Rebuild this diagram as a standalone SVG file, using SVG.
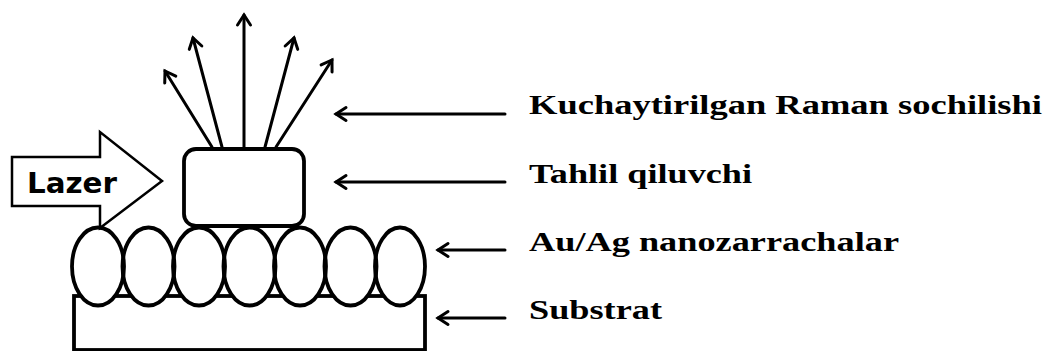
<svg xmlns="http://www.w3.org/2000/svg" width="1045" height="351" viewBox="0 0 1045 351">
  <style>
    .ln { stroke:#000; stroke-width:3; fill:none; stroke-linecap:round; }
    .shape { stroke:#000; stroke-width:3.8; fill:#fff; }
    .pfill { fill:#fff; stroke:none; }
    .pline { fill:none; stroke:#000; stroke-width:3.8; }
    .lbl { font-family:"Liberation Serif","Times New Roman",serif; font-weight:bold; font-size:28px; fill:#000; }
    .laz { font-family:"DejaVu Sans","Liberation Sans",sans-serif; font-weight:bold; font-size:28px; fill:#000; }
  </style>
  <defs>
    <marker id="ah" markerUnits="userSpaceOnUse" viewBox="-14 -9 17 18" markerWidth="17" markerHeight="18" refX="0" refY="0" orient="auto">
      <path d="M -10 -6.5 L 0 0 L -10 6.5" fill="none" stroke="#000" stroke-width="3" stroke-linecap="round" stroke-linejoin="miter"/>
    </marker>
    <g id="ells">
      <ellipse cx="98" cy="266.5" rx="26" ry="39"/>
      <ellipse cx="148.5" cy="266.5" rx="26" ry="39"/>
      <ellipse cx="199" cy="266.5" rx="26" ry="39"/>
      <ellipse cx="249.5" cy="266.5" rx="26" ry="39"/>
      <ellipse cx="300" cy="266.5" rx="26" ry="39"/>
      <ellipse cx="350.5" cy="266.5" rx="26" ry="39"/>
      <ellipse cx="400" cy="266.5" rx="25" ry="39"/>
    </g>
  </defs>
  <rect width="1045" height="351" fill="#fff"/>

  <g id="substrat">
    <rect class="shape" x="74" y="296" width="351" height="54"/>
  </g>

  <g id="nanozarrachalar">
    <use href="#ells" class="pfill"/>
    <use href="#ells" class="pline"/>
  </g>

  <g id="tahlil">
    <rect class="shape" x="184" y="149" width="120" height="77" rx="12" ry="12"/>
  </g>

  <g id="lazer">
    <polygon points="12,157 100,157 100,132 162,181 100,228 100,206 12,206" fill="#fff" stroke="#000" stroke-width="2.5" stroke-linejoin="miter"/>
    <text class="laz" x="27" y="193" textLength="90" lengthAdjust="spacingAndGlyphs">Lazer</text>
  </g>

  <g id="connectors">
    <line class="ln" x1="212" y1="147" x2="165" y2="71" marker-end="url(#ah)"/>
    <line class="ln" x1="222" y1="147" x2="193" y2="38" marker-end="url(#ah)"/>
    <line class="ln" x1="244" y1="147" x2="244" y2="15" marker-end="url(#ah)"/>
    <line class="ln" x1="265" y1="147" x2="294" y2="38" marker-end="url(#ah)"/>
    <line class="ln" x1="276" y1="147" x2="332" y2="60" marker-end="url(#ah)"/>

    <line class="ln" x1="505" y1="114" x2="336" y2="114" marker-end="url(#ah)"/>
    <line class="ln" x1="505" y1="182" x2="336" y2="182" marker-end="url(#ah)"/>
    <line class="ln" x1="505" y1="250" x2="438" y2="250" marker-end="url(#ah)"/>
    <line class="ln" x1="505" y1="318" x2="438" y2="318" marker-end="url(#ah)"/>
  </g>

  <g id="labels">
    <text class="lbl" x="529" y="114" textLength="513" lengthAdjust="spacingAndGlyphs">Kuchaytirilgan Raman sochilishi</text>
    <text class="lbl" x="529" y="183" textLength="223" lengthAdjust="spacingAndGlyphs">Tahlil qiluvchi</text>
    <text class="lbl" x="529" y="251" textLength="370" lengthAdjust="spacingAndGlyphs">Au/Ag nanozarrachalar</text>
    <text class="lbl" x="529" y="319" textLength="133" lengthAdjust="spacingAndGlyphs">Substrat</text>
  </g>
</svg>
